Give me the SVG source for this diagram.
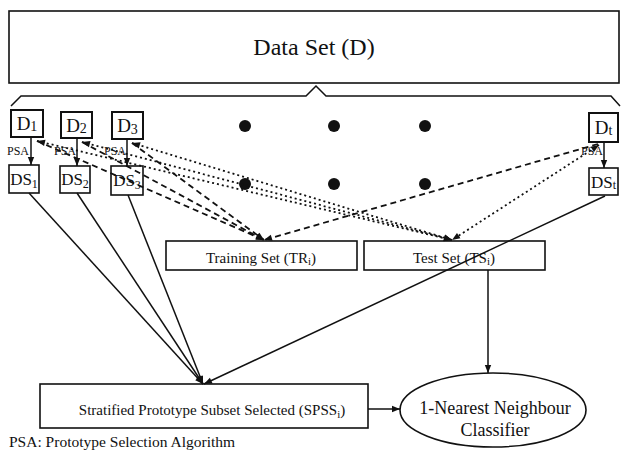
<svg xmlns="http://www.w3.org/2000/svg" width="621" height="455" viewBox="0 0 621 455">
<style>
text{font-family:"Liberation Serif","Times New Roman",serif;fill:#111}
.box{fill:#fff;stroke:#111;stroke-width:1.6}
.dbox{fill:#fff;stroke:#111;stroke-width:2}
.ln{fill:none;stroke:#111;stroke-width:1.5}
.dash{fill:none;stroke:#111;stroke-width:1.8;stroke-dasharray:6 4}
.dot{fill:none;stroke:#111;stroke-width:1.8;stroke-dasharray:2 3}
.psa{font-size:12px;text-anchor:end}
.dl{font-size:19px;text-anchor:middle}
.dsl{font-size:17px;text-anchor:middle}
</style>
<defs>
<marker id="ah" viewBox="0 0 10 10" refX="10" refY="5" markerWidth="9" markerHeight="8" markerUnits="userSpaceOnUse" orient="auto-start-reverse"><path d="M0,1 L10,5 L0,9 z" fill="#111"/></marker>
</defs>

<g id="dataset">
<rect class="box" x="9" y="11" width="610" height="72"/>
<text x="314" y="55" font-size="24" text-anchor="middle">Data Set (D)</text>
<path class="ln" d="M11,106 L21,96 L306,96 L316,86 L326,96 L611,96 L620,106"/>
</g>

<g id="dots" fill="#111">
<circle cx="245" cy="126" r="6"/><circle cx="334" cy="126" r="6"/><circle cx="425" cy="126" r="6"/>
<circle cx="245" cy="184" r="6"/><circle cx="334" cy="184" r="6"/><circle cx="425" cy="184" r="6"/>
</g>

<g id="D1"><rect class="dbox" x="11" y="110" width="32" height="27"/><text class="dl" x="27" y="130">D<tspan font-size="14" dy="1">1</tspan></text></g>
<g id="D2"><rect class="dbox" x="61" y="112" width="31" height="26"/><text class="dl" x="76.5" y="132">D<tspan font-size="14" dy="1">2</tspan></text></g>
<g id="D3"><rect class="dbox" x="112" y="112" width="31" height="27"/><text class="dl" x="127.5" y="132">D<tspan font-size="14" dy="2">3</tspan></text></g>
<g id="Dt"><rect class="dbox" x="589" y="113" width="29" height="29"/><text class="dl" x="603.5" y="134">D<tspan font-size="14" dy="1">t</tspan></text></g>

<g id="DS1"><rect class="box" x="9" y="165" width="30" height="28"/><text class="dsl" x="24" y="185">DS<tspan font-size="12" dy="3">1</tspan></text></g>
<g id="DS2"><rect class="box" x="60" y="166" width="30" height="27"/><text class="dsl" x="75" y="185">DS<tspan font-size="12" dy="3">2</tspan></text></g>
<g id="DS3"><rect class="box" x="111" y="166" width="32" height="29"/><text class="dsl" x="127" y="186">DS<tspan font-size="12" dy="3">3</tspan></text></g>
<g id="DSt"><rect class="box" x="589" y="168" width="29" height="27"/><text class="dsl" x="603.5" y="188">DS<tspan font-size="12" dy="1">t</tspan></text></g>

<g id="training"><rect class="box" x="166" y="241" width="191" height="29"/><text x="261" y="263" font-size="15" text-anchor="middle">Training Set (TR<tspan font-size="11" dy="2">i</tspan><tspan dy="-2">)</tspan></text></g>
<g id="test"><rect class="box" x="364" y="241" width="181" height="29"/><text x="454" y="263" font-size="15" text-anchor="middle">Test Set (TS<tspan font-size="11" dy="2">i</tspan><tspan dy="-2">)</tspan></text></g>

<g id="spss"><rect class="box" x="40" y="384" width="328" height="44"/><text x="212" y="415" font-size="15" text-anchor="middle">Stratified Prototype Subset Selected (SPSS<tspan font-size="11" dy="3">i</tspan><tspan dy="-3">)</tspan></text></g>

<g id="classifier"><ellipse class="box" cx="493" cy="410" rx="93" ry="37"/><text x="495" y="414" font-size="18" text-anchor="middle">1-Nearest Neighbour</text><text x="495" y="436" font-size="18" text-anchor="middle">Classifier</text></g>

<g id="connectors">
<path class="dash" d="M37,141 L264,240" marker-end="url(#ah)"/>
<path class="dash" d="M82,142 L264,240" marker-end="url(#ah)"/>
<path class="dash" d="M132,143 L264,240" marker-end="url(#ah)"/>
<path class="dash" d="M598,144 L264,240" marker-end="url(#ah)"/>
<path class="dot" d="M37,141 L452,240" marker-start="url(#ah)" marker-end="url(#ah)"/>
<path class="dot" d="M82,142 L452,240" marker-start="url(#ah)" marker-end="url(#ah)"/>
<path class="dot" d="M132,143 L452,240" marker-start="url(#ah)" marker-end="url(#ah)"/>
<path class="dot" d="M599,145 L452,240" marker-start="url(#ah)" marker-end="url(#ah)"/>
<path class="ln" d="M31,137 L31,165" marker-end="url(#ah)"/>
<path class="ln" d="M77,138 L77,166" marker-end="url(#ah)"/>
<path class="ln" d="M127,139 L127,166" marker-end="url(#ah)"/>
<path class="ln" d="M604,142 L604,168" marker-end="url(#ah)"/>
<path class="ln" d="M29,193 L203,384" marker-end="url(#ah)"/>
<path class="ln" d="M77,193 L203,384" marker-end="url(#ah)"/>
<path class="ln" d="M128,195 L203,384" marker-end="url(#ah)"/>
<path class="ln" d="M605,196 L204,384" marker-end="url(#ah)"/>
<path class="ln" d="M488,270 L488,373" marker-end="url(#ah)"/>
<path class="ln" d="M368,409 L400,409" marker-end="url(#ah)"/>
</g>

<g id="psa-labels">
<text class="psa" x="29" y="155">PSA</text>
<text class="psa" x="76" y="155">PSA</text>
<text class="psa" x="126" y="155">PSA</text>
<text class="psa" x="603" y="155">PSA</text>
</g>

<g id="legend"><text x="9" y="447" font-size="15.5">PSA: Prototype Selection Algorithm</text></g>
</svg>
